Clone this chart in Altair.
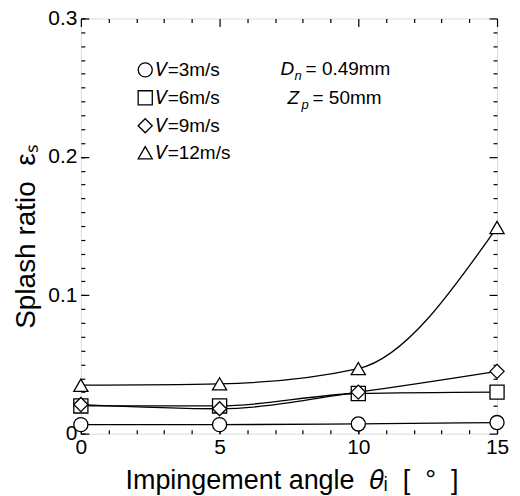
import altair as alt
import pandas as pd

FONT = "Liberation Sans"
NB = "\u00a0"

# ---- data ----
angles = [0, 5, 10, 15]
series_labels = ["𝑉=3m/s", "𝑉=6m/s", "𝑉=9m/s", "𝑉=12m/s"]
v3 = [0.0065, 0.0065, 0.007, 0.008]
v6 = [0.020, 0.020, 0.029, 0.030]
v9 = [0.021, 0.018, 0.030, 0.045]
v12 = [0.035, 0.036, 0.047, 0.149]
shapes = ["circle", "square", "diamond", "triangle-up"]

x_major = [0, 5, 10, 15]
x_minor = list(range(0, 16))
y_major = [0, 0.1, 0.2, 0.3]
y_minor = [i / 100 for i in range(0, 31)]

ann_x = [7.2, 7.45]
ann_y = [0.259, 0.238]
ann_main = ["D", "Z"]
ann_sub = ["n", "p"]
ann_rest = ["= 0.49mm", "= 50mm"]

x_title = "Impingement angle" + NB * 2 + "𝜃ᵢ" + NB * 2 + "[" + NB * 2 + "°" + NB * 2 + "]"
y_title = "Splash ratio" + NB * 2 + "εₛ"

W, H = 417, 416
MAJ, MIN = 8, 4

rows = []
for lab, vals in zip(series_labels, [v3, v6, v9, v12]):
    for a, v in zip(angles, vals):
        rows.append({"angle": a, "ratio": v, "series": lab})
df = pd.DataFrame(rows)

ann = pd.DataFrame({"x": ann_x, "y": ann_y, "main": ann_main, "sub": ann_sub, "rest": ann_rest})

xs = alt.Scale(domain=[0, 15], nice=False, zero=False)
ys = alt.Scale(domain=[0, 0.3], nice=False)

x_tick_cond = {"condition": {"test": "datum.value % 5 == 0", "value": MAJ}, "value": MIN}
y_tick_cond = {"condition": {"test": "abs(datum.value * 10 - round(datum.value * 10)) < 0.001", "value": MAJ}, "value": MIN}


def tick_axis(orient, offset, values, size):
    return alt.Axis(orient=orient, offset=offset, values=values, labels=False, domain=False,
                    grid=False, title="", tickSize=size, tickColor="black", tickWidth=1.2)


# label axes (bottom / left)
x_lab = alt.Axis(orient="bottom", values=x_major, ticks=False, tickSize=0, domain=False, grid=False,
                 labelFont=FONT, labelFontSize=21, labelColor="black", labelPadding=3,
                 labelFlush=False, labelOverlap=False,
                 title=x_title, titleFont=FONT, titleFontSize=27,
                 titleFontWeight="normal", titleColor="black",
                 titleX=211, titleY=47, titleBaseline="middle", titleAlign="center")
y_lab = alt.Axis(orient="left", values=y_major, ticks=False, tickSize=0, domain=False, grid=False, format="~g",
                 labelFont=FONT, labelFontSize=21, labelColor="black", labelPadding=4,
                 labelFlush=False, labelOverlap=False,
                 title=y_title, titleFont=FONT, titleFontSize=28,
                 titleFontWeight="normal", titleColor="black",
                 titleX=-54, titleY=218, titleBaseline="middle", titleAlign="center", titleAngle=270)

base = alt.Chart(df)

lines = base.mark_line(interpolate="monotone", color="black", strokeWidth=1.3).encode(
    x=alt.X("angle:Q", scale=xs, axis=x_lab),
    y=alt.Y("ratio:Q", scale=ys, axis=y_lab),
    detail="series:N",
)

legend = alt.Legend(
    title=None, orient="none", legendX=55, legendY=42, padding=0, rowPadding=7,
    symbolSize=200, symbolStrokeWidth=1.3,
    labelFont=FONT, labelFontSize=19, labelColor="black", labelOffset=1,
)

points = base.mark_point(filled=False, color="black", fill="white", fillOpacity=1,
                         strokeWidth=1.3, size=200).encode(
    x=alt.X("angle:Q", scale=xs, axis=tick_axis("bottom", -MAJ, x_major, MAJ)),
    y=alt.Y("ratio:Q", scale=ys, axis=tick_axis("left", -MAJ, y_major, MAJ)),
    shape=alt.Shape("series:N", scale=alt.Scale(domain=series_labels, range=shapes), legend=legend),
)

ghost_minor = base.mark_point(size=0, strokeWidth=0, fillOpacity=0, strokeOpacity=0).encode(
    x=alt.X("angle:Q", scale=xs, axis=tick_axis("bottom", -MIN, x_minor, MIN)),
    y=alt.Y("ratio:Q", scale=ys, axis=tick_axis("left", -MIN, y_minor, MIN)),
)

ghost_far = base.mark_point(size=0, strokeWidth=0, fillOpacity=0, strokeOpacity=0).encode(
    x=alt.X("angle:Q", scale=xs, axis=tick_axis("bottom", -H, x_minor, x_tick_cond)),
    y=alt.Y("ratio:Q", scale=ys, axis=tick_axis("left", -W, y_minor, y_tick_cond)),
)

t_main = alt.Chart(ann).mark_text(font=FONT, fontSize=19, fontStyle="italic", align="left",
                                  baseline="alphabetic", color="black").encode(
    x=alt.X("x:Q", scale=xs, axis=None), y=alt.Y("y:Q", scale=ys, axis=None), text="main:N")
t_sub = alt.Chart(ann).mark_text(font=FONT, fontSize=13, fontStyle="italic", align="left",
                                 baseline="alphabetic", color="black", dx=14, dy=5).encode(
    x=alt.X("x:Q", scale=xs, axis=None), y=alt.Y("y:Q", scale=ys, axis=None), text="sub:N")
t_rest = alt.Chart(ann).mark_text(font=FONT, fontSize=19, align="left",
                                  baseline="alphabetic", color="black", dx=25).encode(
    x=alt.X("x:Q", scale=xs, axis=None), y=alt.Y("y:Q", scale=ys, axis=None), text="rest:N")

chart = alt.layer(lines, points, ghost_minor, ghost_far, t_main, t_sub, t_rest).resolve_axis(
    x="independent", y="independent"
).properties(
    width=W, height=H,
    autosize=alt.AutoSizeParams(type="none"),
    padding={"left": 73, "top": 10, "right": 15, "bottom": 62},
).configure_view(stroke="black", strokeWidth=1.3).configure(background="white")

chart.save("out.html", embed_options={"renderer": "svg", "actions": False})
